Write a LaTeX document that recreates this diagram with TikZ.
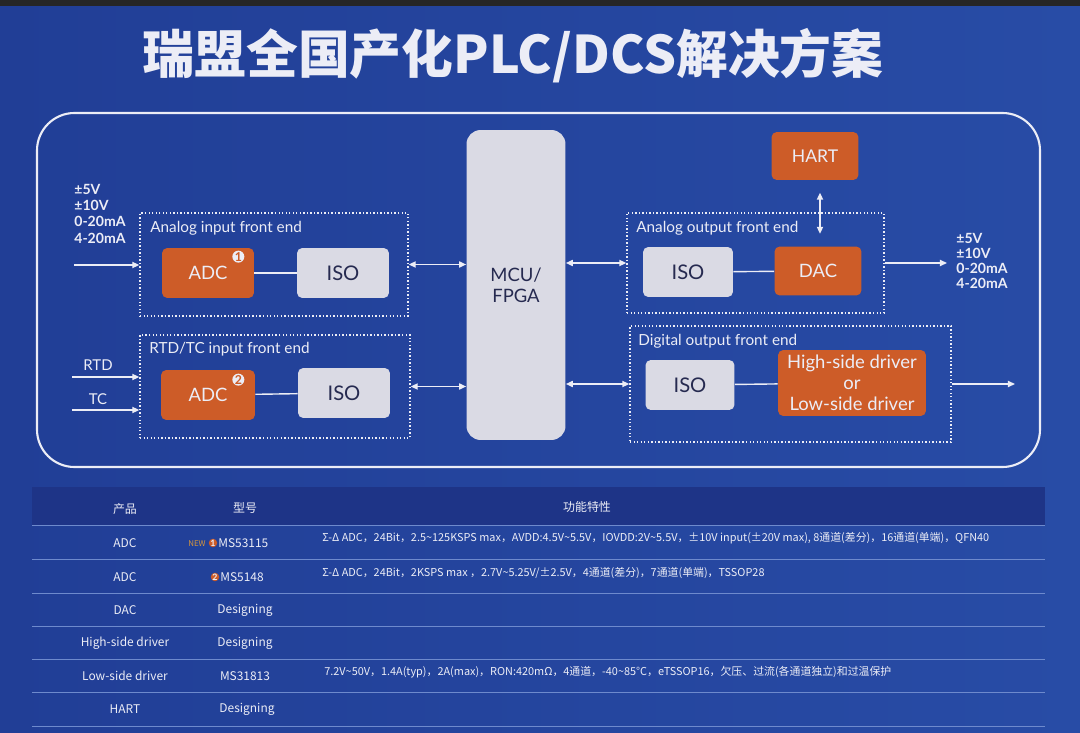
\documentclass[tikz,border=0pt]{standalone}
\usepackage{fontspec}
\setmainfont{Lato}
\newfontfamily\cjkfont{Noto Sans CJK SC}
\usetikzlibrary{positioning,calc}
\usetikzlibrary{arrows.meta}
\definecolor{SlideBlue}{RGB}{40,76,166}
\definecolor{SlideDeep}{RGB}{33,62,150}
\definecolor{HeadBlue}{RGB}{30,52,135}
\definecolor{ChipOrange}{RGB}{205,92,40}
\definecolor{IsoGray}{RGB}{218,218,228}
\definecolor{InkNavy}{RGB}{38,42,80}
\definecolor{LineWhite}{RGB}{236,237,246}
\definecolor{RuleBlue}{RGB}{110,138,205}
\definecolor{NewGold}{RGB}{214,150,60}
\tikzset{
	chip/.style={fill=ChipOrange,text=LineWhite,rounded corners=3pt,inner sep=0pt,
		font=\fontsize{10.5}{12}\selectfont,align=center},
	iso/.style={fill=IsoGray,text=InkNavy,rounded corners=3pt,inner sep=0pt,
		font=\fontsize{11.5}{13}\selectfont,align=center},
	frontend/.style={draw=LineWhite,line width=0.8pt,dash pattern=on 0.8pt off 1.2pt,inner sep=0pt},
	fetitle/.style={text=LineWhite,anchor=west,inner sep=0pt,font=\fontsize{8.7}{10}\selectfont},
	siglabel/.style={text=LineWhite,inner sep=0pt,align=left,font=\bfseries\fontsize{8}{9.2}\selectfont},
	wire/.style={draw=LineWhite,line width=0.8pt},
	bus/.style={wire,{Triangle[length=4pt,width=3.5pt]}-{Triangle[length=4pt,width=3.5pt]}},
	feed/.style={wire,-{Triangle[length=4pt,width=3.5pt]}},
	badge/.style={circle,fill=LineWhite,text=ChipOrange,inner sep=0pt,minimum size=0.24cm,
		font=\bfseries\fontsize{7}{7}\selectfont},
	minibadge/.style={badge,fill=ChipOrange,text=LineWhite,minimum size=0.17cm,
		font=\bfseries\fontsize{5}{5}\selectfont},
	cell/.style={text=LineWhite,inner sep=0pt,font=\cjkfont\fontsize{6.8}{8}\selectfont},
	spec/.style={cell,anchor=west,font=\cjkfont\fontsize{6.2}{7}\selectfont},
	rowrule/.style={draw=RuleBlue,line width=0.5pt},
}

\begin{document}
\begin{tikzpicture}[x=0.02cm,y=-0.02cm]
					\useasboundingbox (0,0) rectangle (1080,733);
					\shade[left color=SlideDeep,right color=SlideBlue] (0,0) rectangle (1080,733);
					\fill[black!85] (0,0) rectangle (1080,6);
					\node[text=LineWhite,font=\cjkfont\bfseries\fontsize{29.5}{33}\selectfont] (title) at (513,56) {瑞盟全国产化PLC/DCS解决方案};
					\draw[LineWhite,line width=1.2pt,rounded corners=0.75cm] (37,113) rectangle (1040,467);
					\node[frontend,minimum width=5.36cm,minimum height=2.06cm] (ain) at (274,264.5) {};
					\node[frontend,minimum width=5.40cm,minimum height=2.06cm] (rin) at (275,386.5) {};
					\node[frontend,minimum width=5.14cm,minimum height=2.00cm] (aout) at (755.5,263) {};
					\node[frontend,minimum width=6.42cm,minimum height=2.32cm] (dout) at (790.5,384) {};
					\node[fetitle] at (150,228) {Analog input front end};
					\node[fetitle] at (149,349) {RTD/TC input front end};
					\node[fetitle] at (636,228) {Analog output front end};
					\node[fetitle] at (638,341) {Digital output front end};
					\node[chip,minimum width=1.84cm,minimum height=1.0cm] (adcA) at (208,273) {ADC};
					\node[iso,minimum width=1.84cm,minimum height=1.0cm] (isoA) at (343,273) {ISO};
					\node[chip,minimum width=1.88cm,minimum height=1.0cm] (adcB) at (208,395) {ADC};
					\node[iso,minimum width=1.84cm,minimum height=1.0cm] (isoB) at (344,393) {ISO};
					\node[iso,rounded corners=8pt,minimum width=1.98cm,minimum height=6.2cm,font=\fontsize{10.5}{12}\selectfont] (mcu) at (516,285) {MCU/\\FPGA};
					\node[iso,minimum width=1.80cm,minimum height=1.0cm] (isoC) at (688,272) {ISO};
					\node[chip,minimum width=1.74cm,minimum height=0.98cm] (dac) at (818,271) {DAC};
					\node[chip,minimum width=1.74cm,minimum height=0.96cm,font=\fontsize{10}{12}\selectfont] (hart) at (815,156) {HART};
					\node[iso,minimum width=1.78cm,minimum height=1.0cm] (isoD) at (690,385) {ISO};
					\node[chip,minimum width=2.96cm,minimum height=1.32cm] (drv) at (852,383) {High-side driver\\or\\Low-side driver};
					\node[badge] (nA) at ($(adcA.north east)+(-16,9)$) {1};
					\node[badge] (nB) at ($(adcB.north east)+(-17,10)$) {2};
					\draw[wire] (adcA) -- (isoA);
					\draw[wire] (adcB) -- (isoB);
					\draw[wire] (isoC) -- (dac);
					\draw[wire] (isoD) -- (drv);
					\coordinate (inA) at (74,265);
					\coordinate (inRTD) at (72,377);
					\coordinate (inTC) at (72,410);
					\coordinate (outA) at (947,263);
					\coordinate (outD) at (1015,384);
					\node[siglabel,anchor=north west] (sigin) at (74,184) {±5V\\±10V\\0-20mA\\4-20mA};
					\node[siglabel,anchor=north west,font=\bfseries\fontsize{8}{8.6}\selectfont] (sigout) at (956,233) {±5V\\±10V\\0-20mA\\4-20mA};
					\node[siglabel,font=\fontsize{8.5}{10}\selectfont] (rtd) at (98,365) {RTD};
					\node[siglabel,font=\fontsize{8.5}{10}\selectfont] (tc) at (98,399) {TC};
					\draw[feed] (inA) -- (ain.west |- inA);
					\draw[feed] (inRTD) -- (rin.west |- inRTD);
					\draw[feed] (inTC) -- (rin.west |- inTC);
					\draw[bus] (ain.east) -- (mcu.west |- ain.east);
					\draw[bus] (rin.east) -- (mcu.west |- rin.east);
					\draw[bus] (mcu.east |- aout.west) -- (aout.west);
					\draw[bus] (mcu.east |- dout.west) -- (dout.west);
					\draw[bus,shorten <=7,shorten >=7] (hart.south -| 820,0) -- (dac.north -| 820,0);
					\draw[feed] (aout.east) -- (outA);
					\draw[feed] (dout.east) -- (outD);
					\fill[HeadBlue] (32,487) rectangle (1045,525);
					\foreach \ry in {525,559,593,626,659,692,726}
						\draw[rowrule] (32,\ry) -- (1045,\ry);
					\node[cell] (h1) at (125,509) {产品};
					\node[cell] (h2) at (245,508) {型号};
					\node[cell] (h3) at (587,507) {功能特性};
					\node[cell] (p1) at (125,543) {ADC};
					\node[cell] (p2) at (125,577) {ADC};
					\node[cell] (p3) at (125,610) {DAC};
					\node[cell] (p4) at (125,643) {High-side driver};
					\node[cell] (p5) at (125,676) {Low-side driver};
					\node[cell] (p6) at (125,709) {HART};
					\node[cell,text=NewGold,font=\cjkfont\fontsize{4.5}{5}\selectfont] (new) at (197,544) {NEW};
					\node[minibadge] (m1) at (213,543) {1};
					\node[cell,anchor=west] (t1) at (218,543) {MS53115};
					\node[minibadge] (m2) at (215,577) {2};
					\node[cell,anchor=west] (t2) at (220,577) {MS5148};
					\node[cell] (t3) at (245,610) {Designing};
					\node[cell] (t4) at (245,643) {Designing};
					\node[cell] (t5) at (245,676) {MS31813};
					\node[cell] (t6) at (247,709) {Designing};
					\node[spec] (f1) at (322,538) {Σ-Δ ADC，24Bit，2.5\textasciitilde125KSPS max，AVDD:4.5V\textasciitilde5.5V，IOVDD:2V\textasciitilde5.5V，±10V input(±20V max), 8通道(差分)，16通道(单端)，QFN40};
					\node[spec] (f2) at (322,573) {Σ-Δ ADC，24Bit，2KSPS max ，2.7V\textasciitilde5.25V/±2.5V，4通道(差分)，7通道(单端)，TSSOP28};
					\node[spec] (f5) at (324,672) {7.2V\textasciitilde50V，1.4A(typ)，2A(max)，RON:420mΩ，4通道，-40\textasciitilde85°C，eTSSOP16，欠压、过流(各通道独立)和过温保护};
				\end{tikzpicture}
\end{document}
